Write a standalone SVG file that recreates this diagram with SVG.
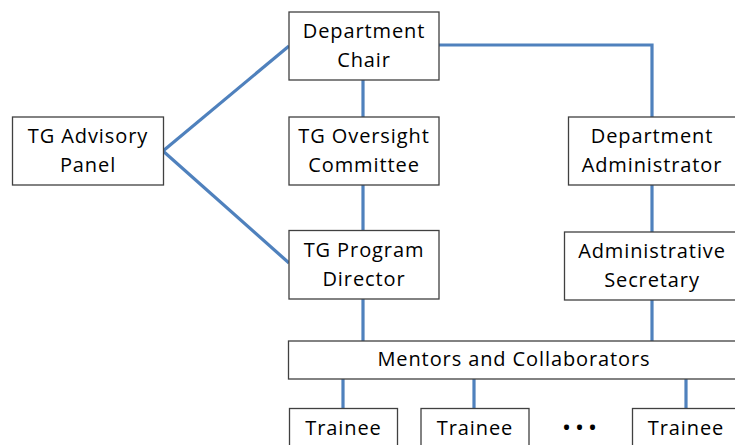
<svg xmlns="http://www.w3.org/2000/svg" width="735" height="445" viewBox="0 0 735 445">
  <style>
    .box { fill: #ffffff; stroke: #404040; stroke-width: 1.3; }
    .lbl { font-family: "Open Sans", "Liberation Sans", sans-serif; font-size: 20px; letter-spacing: 0.9px; fill: #000000; text-anchor: middle; }
    .dots { font-family: "Open Sans", "Liberation Sans", sans-serif; font-size: 24px; letter-spacing: 4px; fill: #000000; }
    .link { fill: none; stroke: #4f81bd; stroke-width: 3.2; }
  </style>
  <rect width="735" height="445" fill="#ffffff"/>

  <!-- reporting lines -->
  <g id="connectors">
    <path class="link" d="M163,151 L289,46"/>
    <path class="link" d="M163,151 L289,263"/>
    <path class="link" d="M363,80 V117"/>
    <path class="link" d="M363,185 V231"/>
    <path class="link" d="M363,299 V341"/>
    <path class="link" d="M439,45 H652 V117"/>
    <path class="link" d="M652,185 V232"/>
    <path class="link" d="M652,300 V341"/>
    <path class="link" d="M343,379 V409"/>
    <path class="link" d="M474,379 V409"/>
    <path class="link" d="M686,379 V409"/>
  </g>

  <g id="dept-chair">
    <rect class="box" x="289" y="12" width="150" height="68"/>
    <text class="lbl" x="364" y="38">Department</text>
    <text class="lbl" x="364" y="67">Chair</text>
  </g>

  <g id="advisory-panel">
    <rect class="box" x="12.5" y="117" width="151" height="68"/>
    <text class="lbl" x="88" y="143">TG Advisory</text>
    <text class="lbl" x="88" y="172">Panel</text>
  </g>

  <g id="oversight-committee">
    <rect class="box" x="289" y="117" width="150" height="68"/>
    <text class="lbl" x="364" y="143">TG Oversight</text>
    <text class="lbl" x="364" y="172">Committee</text>
  </g>

  <g id="dept-administrator">
    <rect class="box" x="568.5" y="117" width="168" height="68"/>
    <text class="lbl" x="652" y="143">Department</text>
    <text class="lbl" x="652" y="172">Administrator</text>
  </g>

  <g id="program-director">
    <rect class="box" x="289" y="230.5" width="150" height="68.5"/>
    <text class="lbl" x="364" y="257">TG Program</text>
    <text class="lbl" x="364" y="286">Director</text>
  </g>

  <g id="admin-secretary">
    <rect class="box" x="564.5" y="232" width="176" height="68"/>
    <text class="lbl" x="652" y="258">Administrative</text>
    <text class="lbl" x="652" y="287">Secretary</text>
  </g>

  <g id="mentors">
    <rect class="box" x="288.5" y="341" width="452" height="38"/>
    <text class="lbl" x="514" y="366">Mentors and Collaborators</text>
  </g>

  <g id="trainee-1">
    <rect class="box" x="289.5" y="408.5" width="108" height="45"/>
    <text class="lbl" x="343.5" y="435">Trainee</text>
  </g>

  <g id="trainee-2">
    <rect class="box" x="421" y="408.5" width="108" height="45"/>
    <text class="lbl" x="475" y="435">Trainee</text>
  </g>

  <g id="ellipsis">
    <text class="dots" x="562" y="436">•••</text>
  </g>

  <g id="trainee-n">
    <rect class="box" x="632.5" y="408.5" width="108" height="45"/>
    <text class="lbl" x="686" y="435">Trainee</text>
  </g>
</svg>
